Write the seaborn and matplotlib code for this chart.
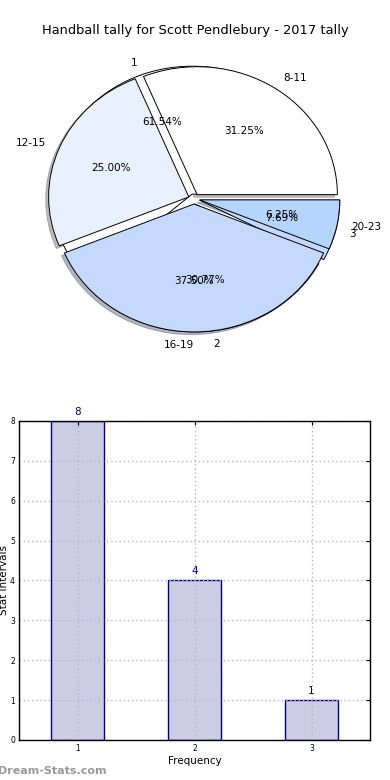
import matplotlib
matplotlib.use("Agg")
import matplotlib.pyplot as plt
import seaborn as sns
import numpy as np

sns.set_style("white")
plt.rcParams['font.family'] = ['DejaVu Sans']
plt.rcParams.update({"text.color": "black", "axes.labelcolor": "black",
                     "xtick.color": "black", "ytick.color": "black"})

# Data
title = "Handball tally for Scott Pendlebury - 2017 tally"
range_labels = ["8-11", "12-15", "16-19", "20-23"]
range_counts = [5, 4, 6, 1]
range_colors = ["#ffffff", "#eaf1fe", "#c5d8fe", "#b4d5fe"]

freq_labels = ["1", "2", "3"]
freq_counts = [8, 4, 1]

bar_x = [1, 2, 3]
bar_values = [8, 4, 1]

fig = plt.figure(figsize=(3.9, 7.8), dpi=100)

# ---- Pie chart ----
axp = fig.add_axes([0.048, 0.54, 0.899, 0.41])
wb, tb, ab = axp.pie(freq_counts, labels=freq_labels, autopct="%1.2f%%",
                     explode=[0.04] * 3, shadow=False,
                     colors=range_colors[:3],
                     wedgeprops=dict(edgecolor="black", linewidth=0.7),
                     textprops=dict(fontsize=7.5, color="black"))
wa, ta, aa = axp.pie(range_counts, labels=range_labels, autopct="%1.2f%%",
                     explode=[0.04] * 4,
                     shadow=dict(ox=-0.015, oy=-0.015, shade=0.5),
                     colors=range_colors,
                     wedgeprops=dict(edgecolor="black", linewidth=0.7),
                     textprops=dict(fontsize=7.5, color="black"))
ta[2].set_ha("right")
axp.set_aspect("auto")
axp.set_xlim(-1.25, 1.25)
axp.set_ylim(-1.25, 1.25)
fig.text(0.5, 0.961, title, ha="center", va="center", fontsize=9.4,
         color="black")

# ---- Bar chart ----
axb = fig.add_axes([0.049, 0.0513, 0.9, 0.409])
sns.barplot(x=bar_x, y=bar_values, native_scale=True, width=0.45,
            color="#ccccE5", edgecolor="#000080", linewidth=1.0,
            saturation=1, ax=axb, zorder=1)
axb.set_xlim(0.5, 3.5)
axb.set_ylim(0, 8)
axb.set_xticks(bar_x)
axb.set_xticklabels([str(v) for v in bar_x])
axb.set_yticks(range(0, 9))
axb.tick_params(axis="both", labelsize=5.5, direction="in", length=3,
                top=True, right=True, pad=3)
axb.grid(True, linestyle=(0, (1, 2)), color="#b8b8b8", linewidth=1.0)
axb.set_axisbelow(False)
for s in axb.spines.values():
    s.set_color("black")
    s.set_linewidth(1.0)
    s.set_zorder(5)
for xv, yv in zip(bar_x, bar_values):
    axb.text(xv, yv + 0.1, str(yv), ha="center", va="bottom",
             fontsize=7.5, color="#00008B")
axb.set_xlabel("Frequency", fontsize=7.5, labelpad=2)
axb.set_ylabel("Stat Intervals", fontsize=7.5)
axb.yaxis.set_label_coords(-0.03, 0.5)

fig.text(-0.005, 0.005, "Dream-Stats.com", fontsize=8, color="#999999",
         fontweight="bold", ha="left", va="bottom")

fig.savefig("out.png", dpi=100)
